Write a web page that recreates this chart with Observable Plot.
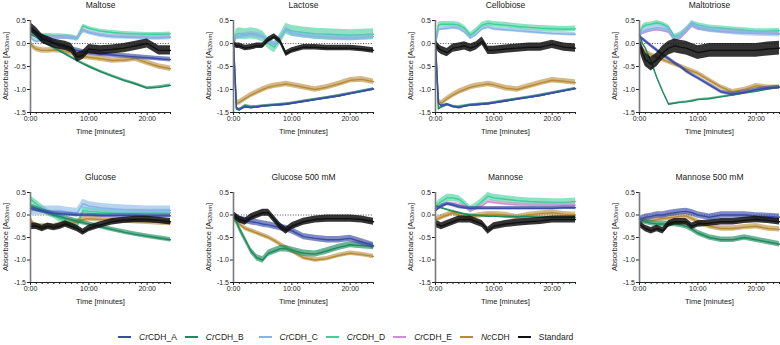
<!DOCTYPE html>
<html><head><meta charset="utf-8">
<script src="https://cdn.jsdelivr.net/npm/d3@7"></script>
<script src="https://cdn.jsdelivr.net/npm/@observablehq/plot@0.6"></script>
<style>
body{margin:0;background:#fff;font-family:"Liberation Sans",Arial,sans-serif;}
#chart{position:relative;width:780px;height:345px;overflow:hidden;background:#fff;}
#chart svg{position:absolute;overflow:visible;}
#legend{position:absolute;left:118px;top:332px;display:flex;align-items:center;font-size:8.5px;color:#222;white-space:nowrap;}
#legend .item{display:flex;align-items:center;margin-right:8px;}
#legend .sw{display:inline-block;width:13px;height:2px;margin-right:8px;}
</style></head>
<body>
<div id="chart"><div id="legend"></div></div>
<script>
// ---- data ----
const minutes = [0, 0.5, 1, 2, 3, 4, 5, 6, 7, 8, 9, 10, 12, 14, 16, 18, 20, 22, 24];
const seriesNames = ["CrCDH_A", "CrCDH_B", "CrCDH_C", "CrCDH_D", "CrCDH_E", "NcCDH", "Standard"];
const seriesColors = ["#3a4ca6", "#1d8b5e", "#85b5e6", "#3fcf98", "#cf8fd6", "#b78a35", "#111111"];
const bandOpacity = [0.65, 0.65, 0.6, 0.6, 0.6, 0.6, 0.85];
const drawOrder = [3, 4, 2, 5, 1, 0, 6];
const panelTitles = ["Maltose", "Lactose", "Cellobiose", "Maltotriose", "Glucose", "Glucose 500 mM", "Mannose", "Mannose 500 mM"];
const yTicks = [-1.5, -1, -0.5, 0, 0.5];
const yTickLabels = ["-1.5", "-1.0", "-0.5", "0.0", "0.5"];
const xMajorTicks = [0, 10, 20];
const xMajorLabels = ["0:00", "10:00", "20:00"];
const xMinorTicks = [1,2,3,4,5,6,7,8,9,11,12,13,14,15,16,17,18,19,21,22,23,24];

// values per series, order: A, B, C, D, E, Nc, Standard (null = not shown)
const maltoseValues = [
  [0.30, 0.26, 0.22, 0.15, 0.08, 0.02, -0.04, -0.08, -0.12, -0.15, -0.18, -0.20, -0.23, -0.25, -0.27, -0.29, -0.31, -0.33, -0.35],
  [0.20, 0.17, 0.14, 0.06, -0.02, -0.09, -0.16, -0.23, -0.30, -0.37, -0.44, -0.50, -0.61, -0.71, -0.80, -0.88, -0.97, -0.95, -0.91],
  [0.15, 0.08, 0.05, 0.08, 0.10, 0.12, 0.13, 0.14, 0.12, 0.10, 0.28, 0.24, 0.18, 0.15, 0.14, 0.13, 0.12, 0.12, 0.13],
  [0.30, 0.25, 0.20, 0.18, 0.18, 0.17, 0.17, 0.16, 0.15, 0.12, 0.38, 0.33, 0.27, 0.24, 0.22, 0.21, 0.20, 0.20, 0.21],
  [0.25, 0.20, 0.15, 0.14, 0.14, 0.13, 0.13, 0.12, 0.12, 0.10, 0.30, 0.24, 0.19, 0.16, 0.15, 0.14, 0.13, 0.13, 0.14],
  [0.00, -0.08, -0.12, -0.15, -0.15, -0.14, -0.15, -0.17, -0.20, -0.25, -0.28, -0.30, -0.33, -0.37, -0.36, -0.33, -0.42, -0.50, -0.55],
  [0.35, 0.30, 0.25, 0.10, 0.05, 0.00, -0.03, -0.05, -0.10, -0.30, -0.25, -0.12, -0.15, -0.13, -0.10, -0.05, 0.00, -0.15, -0.15]
];
const maltoseErrors = [0.05, 0.03, 0.05, 0.04, 0.03, 0.06, 0.10];

const lactoseValues = [
  [0.00, -1.40, -1.43, -1.38, -1.40, -1.38, -1.36, -1.35, -1.34, -1.33, -1.32, -1.30, -1.26, -1.22, -1.18, -1.14, -1.09, -1.04, -0.99],
  [0.00, -1.42, -1.45, -1.35, -1.38, -1.38, -1.36, -1.35, -1.34, -1.33, -1.32, -1.30, -1.26, -1.22, -1.18, -1.14, -1.09, -1.04, -0.99],
  [0.00, 0.15, 0.15, 0.18, 0.20, 0.18, 0.15, 0.05, -0.02, 0.10, 0.30, 0.22, 0.18, 0.15, 0.13, 0.12, 0.12, 0.13, 0.15],
  [0.00, 0.20, 0.22, 0.20, 0.22, 0.20, 0.15, 0.00, -0.08, 0.10, 0.32, 0.27, 0.24, 0.21, 0.20, 0.19, 0.18, 0.19, 0.20],
  null,
  [0.00, -1.30, -1.28, -1.20, -1.12, -1.06, -1.00, -0.95, -0.92, -0.90, -0.88, -0.90, -0.95, -1.00, -0.95, -0.88, -0.80, -0.78, -0.83],
  [0.00, -0.05, -0.05, -0.10, -0.08, -0.05, -0.05, 0.08, 0.15, 0.05, -0.22, -0.15, -0.08, -0.08, -0.10, -0.10, -0.10, -0.12, -0.15]
];
const lactoseErrors = [0.02, 0.03, 0.06, 0.12, 0, 0.06, 0.06];

const cellobioseValues = [
  [0.00, -1.30, -1.35, -1.32, -1.37, -1.40, -1.36, -1.34, -1.33, -1.32, -1.31, -1.29, -1.25, -1.21, -1.17, -1.13, -1.08, -1.03, -0.98],
  [0.00, -1.42, -1.38, -1.33, -1.37, -1.38, -1.36, -1.34, -1.33, -1.32, -1.31, -1.29, -1.25, -1.21, -1.17, -1.13, -1.08, -1.03, -0.98],
  [0.00, 0.30, 0.32, 0.33, 0.35, 0.33, 0.25, 0.12, 0.20, 0.32, 0.36, 0.32, 0.30, 0.28, 0.26, 0.24, 0.22, 0.21, 0.20],
  [0.00, 0.40, 0.42, 0.42, 0.42, 0.40, 0.33, 0.18, 0.28, 0.40, 0.44, 0.42, 0.40, 0.37, 0.35, 0.33, 0.32, 0.31, 0.32],
  null,
  [0.00, -1.25, -1.30, -1.20, -1.12, -1.05, -1.00, -0.95, -0.92, -0.90, -0.88, -0.90, -0.97, -1.00, -0.93, -0.86, -0.80, -0.82, -0.85],
  [0.00, -0.10, -0.15, -0.20, -0.10, -0.08, -0.05, -0.10, -0.05, 0.05, -0.15, -0.15, -0.12, -0.10, -0.08, -0.08, -0.02, -0.08, -0.10]
];
const cellobioseErrors = [0.02, 0.03, 0.04, 0.06, 0, 0.06, 0.09];

const maltotrioseValues = [
  [0.15, 0.10, 0.05, -0.05, -0.15, -0.25, -0.33, -0.42, -0.50, -0.60, -0.68, -0.75, -0.90, -1.05, -1.10, -1.06, -1.00, -0.97, -0.95],
  [0.20, 0.00, -0.10, -0.40, -0.75, -1.05, -1.32, -1.30, -1.28, -1.27, -1.25, -1.22, -1.20, -1.16, -1.12, -1.08, -1.04, -0.99, -0.95],
  [0.20, 0.25, 0.30, 0.32, 0.35, 0.33, 0.30, 0.08, 0.15, 0.30, 0.42, 0.35, 0.30, 0.27, 0.25, 0.23, 0.22, 0.21, 0.20],
  [0.20, 0.35, 0.40, 0.42, 0.45, 0.42, 0.35, 0.15, 0.20, 0.30, 0.45, 0.40, 0.35, 0.33, 0.31, 0.29, 0.27, 0.27, 0.28],
  [0.20, 0.22, 0.25, 0.28, 0.30, 0.28, 0.25, 0.08, 0.12, 0.25, 0.38, 0.32, 0.28, 0.26, 0.24, 0.23, 0.22, 0.22, 0.22],
  [-0.05, -0.12, -0.18, -0.25, -0.30, -0.35, -0.40, -0.45, -0.50, -0.55, -0.60, -0.65, -0.80, -0.95, -1.05, -1.00, -0.92, -0.95, -0.95],
  [0.00, -0.20, -0.35, -0.45, -0.35, -0.20, -0.10, -0.05, -0.08, -0.10, -0.15, -0.20, -0.15, -0.15, -0.15, -0.15, -0.15, -0.12, -0.10]
];
const maltotrioseErrors = [0.04, 0.02, 0.06, 0.05, 0.03, 0.05, 0.15];

const glucoseValues = [
  [0.15, 0.13, 0.11, 0.08, 0.06, 0.04, 0.03, 0.02, 0.01, 0.00, 0.00, 0.00, -0.01, -0.01, -0.01, -0.01, -0.02, -0.02, -0.02],
  [0.20, 0.18, 0.15, 0.10, 0.05, 0.00, -0.03, -0.07, -0.10, -0.14, -0.17, -0.20, -0.26, -0.32, -0.38, -0.43, -0.47, -0.51, -0.55],
  [0.10, 0.10, 0.10, 0.10, 0.10, 0.10, 0.10, 0.08, 0.06, 0.05, 0.25, 0.20, 0.16, 0.14, 0.12, 0.11, 0.10, 0.10, 0.10],
  [0.35, 0.30, 0.25, 0.15, 0.05, 0.00, -0.08, -0.15, -0.20, -0.25, 0.10, 0.08, 0.06, 0.05, 0.05, 0.05, 0.05, 0.05, 0.05],
  null,
  [-0.10, -0.20, -0.25, -0.25, -0.25, -0.25, -0.22, -0.20, -0.20, -0.15, -0.10, -0.08, -0.10, -0.10, -0.12, -0.14, -0.15, -0.17, -0.18],
  [-0.25, -0.25, -0.25, -0.30, -0.25, -0.28, -0.25, -0.20, -0.25, -0.30, -0.38, -0.30, -0.22, -0.15, -0.12, -0.10, -0.10, -0.12, -0.15]
];
const glucoseErrors = [0.04, 0.05, 0.1, 0.08, 0, 0.06, 0.07];

const glucose500Values = [
  [0.00, -0.05, -0.10, -0.12, -0.15, -0.17, -0.20, -0.22, -0.25, -0.28, -0.30, -0.35, -0.48, -0.52, -0.55, -0.55, -0.52, -0.60, -0.68],
  [-0.05, -0.15, -0.30, -0.55, -0.80, -0.95, -1.00, -0.85, -0.80, -0.75, -0.75, -0.78, -0.85, -0.87, -0.80, -0.72, -0.66, -0.68, -0.70],
  null, null, null,
  [-0.05, -0.12, -0.20, -0.30, -0.35, -0.40, -0.45, -0.50, -0.57, -0.65, -0.72, -0.80, -0.95, -1.00, -0.97, -0.90, -0.85, -0.88, -0.92],
  [0.00, -0.05, -0.10, -0.15, -0.05, 0.00, 0.05, 0.05, -0.10, -0.25, -0.35, -0.25, -0.15, -0.10, -0.08, -0.08, -0.08, -0.10, -0.15]
];
const glucose500Errors = [0.07, 0.07, 0, 0, 0, 0.05, 0.08];

const mannoseValues = [
  [0.10, 0.15, 0.20, 0.25, 0.22, 0.18, 0.16, 0.15, 0.15, 0.15, 0.15, 0.15, 0.15, 0.15, 0.15, 0.15, 0.15, 0.16, 0.16],
  [0.20, 0.18, 0.16, 0.12, 0.08, 0.05, 0.02, 0.00, -0.01, -0.02, -0.03, -0.03, -0.04, -0.04, -0.04, -0.05, -0.05, -0.05, -0.05],
  null,
  [0.15, 0.25, 0.30, 0.38, 0.38, 0.35, 0.25, 0.12, 0.20, 0.30, 0.42, 0.38, 0.35, 0.32, 0.30, 0.29, 0.28, 0.28, 0.30],
  [0.10, 0.15, 0.18, 0.25, 0.25, 0.22, 0.20, 0.10, 0.15, 0.20, 0.30, 0.28, 0.25, 0.23, 0.22, 0.22, 0.22, 0.22, 0.22],
  [-0.10, -0.08, -0.05, 0.00, 0.05, 0.00, -0.03, -0.05, -0.02, 0.00, 0.02, 0.02, 0.00, -0.05, 0.00, 0.03, 0.05, 0.02, 0.00],
  [-0.20, -0.22, -0.25, -0.20, -0.15, -0.10, -0.10, -0.10, -0.15, -0.20, -0.35, -0.25, -0.20, -0.17, -0.15, -0.13, -0.10, -0.10, -0.10]
];
const mannoseErrors = [0.04, 0.02, 0, 0.08, 0.04, 0.06, 0.08];

const mannose500Values = [
  [-0.10, -0.08, -0.05, -0.03, 0.00, 0.00, 0.03, 0.05, 0.07, 0.08, 0.05, 0.00, -0.05, 0.00, 0.00, 0.00, -0.02, -0.03, -0.05],
  [-0.10, -0.12, -0.15, -0.18, -0.20, -0.20, -0.20, -0.20, -0.22, -0.25, -0.32, -0.40, -0.50, -0.55, -0.55, -0.50, -0.55, -0.60, -0.65],
  null, null, null,
  [-0.15, -0.14, -0.12, -0.12, -0.10, -0.08, -0.06, -0.05, -0.03, -0.02, -0.08, -0.15, -0.25, -0.30, -0.30, -0.27, -0.25, -0.30, -0.32],
  [-0.20, -0.25, -0.30, -0.35, -0.30, -0.35, -0.20, -0.15, -0.15, -0.15, -0.25, -0.20, -0.18, -0.15, -0.15, -0.12, -0.10, -0.12, -0.15]
];
const mannose500Errors = [0.07, 0.06, 0, 0, 0, 0.06, 0.07];

const panelValues = [maltoseValues, lactoseValues, cellobioseValues, maltotrioseValues, glucoseValues, glucose500Values, mannoseValues, mannose500Values];
const panelErrors = [maltoseErrors, lactoseErrors, cellobioseErrors, maltotrioseErrors, glucoseErrors, glucose500Errors, mannoseErrors, mannose500Errors];

// ---- layout ----
const colLeft = [0, 203, 405, 609];
const rowTop = [0, 171.5];
const rowPlotHeight = [92, 90];
const font = "Liberation Sans, Arial, sans-serif";
const chart = document.getElementById("chart");

panelTitles.forEach((title, p) => {
  const col = p % 4, row = Math.floor(p / 4);
  const rows = [];
  panelValues[p].forEach((vals, si) => {
    if (!vals) return;
    const e = panelErrors[p][si];
    vals.forEach((v, j) => rows.push({t: minutes[j], v, lo: v - e, hi: v + e, s: si}));
  });
  const seriesMarks = [];
  drawOrder.forEach(si => {
    if (!panelValues[p][si]) return;
    const data = rows.filter(d => d.s === si);
    seriesMarks.push(Plot.areaY(data, {x: "t", y1: "lo", y2: "hi", fill: seriesColors[si], fillOpacity: bandOpacity[si]}));
    seriesMarks.push(Plot.lineY(data, {x: "t", y: "v", stroke: seriesColors[si], strokeWidth: 1.4}));
  });
  const svg = Plot.plot({
    width: 200,
    height: 20 + rowPlotHeight[row] + 40,
    marginLeft: 30, marginRight: 30, marginTop: 20, marginBottom: 40,
    x: {domain: [0, 24]},
    y: {domain: [-1.5, 0.5]},
    style: {fontFamily: font, fontSize: "7px", color: "#222", background: "transparent", overflow: "visible"},
    marks: [
      Plot.ruleY([0], {x1: 0, x2: 24, stroke: "#222", strokeWidth: 0.8, strokeDasharray: "1,1.6"}),
      ...seriesMarks,
      Plot.axisY({ticks: yTicks, tickFormat: d => yTickLabels[yTicks.indexOf(d)], tickSize: 3, tickPadding: 1.5, label: null, stroke: "#222"}),
      Plot.axisX({ticks: xMinorTicks, tickFormat: null, tickSize: 2, label: null, text: null}),
      Plot.axisX({ticks: xMajorTicks, tickFormat: d => xMajorLabels[xMajorTicks.indexOf(d)], tickSize: 3, tickPadding: 0.5, label: null}),
      Plot.ruleY([-1.5], {x1: 0, x2: 24, stroke: "#222", strokeWidth: 1}),
      Plot.ruleX([0], {y1: -1.5, y2: 0.5, stroke: "#7a7a7a", strokeWidth: 1.6}),
      Plot.text([title], {frameAnchor: "top", lineAnchor: "middle", dy: -15, fontSize: 8.5, fill: "#222"}),
      Plot.text(["Time [minutes]"], {frameAnchor: "bottom", lineAnchor: "middle", dy: 19, fontSize: 7.5, fill: "#222"})
    ]
  });
  svg.style.left = colLeft[col] + "px";
  svg.style.top = rowTop[row] + "px";
  // rotated y-axis label with subscript
  const cy = 20 + rowPlotHeight[row] / 2;
  const lab = d3.select(svg).append("text")
    .attr("transform", `translate(6,${cy}) rotate(-90)`)
    .attr("text-anchor", "middle").attr("dominant-baseline", "middle")
    .attr("font-size", 7.5).attr("font-family", font).attr("fill", "#222");
  lab.append("tspan").text("Absorbance [A");
  lab.append("tspan").attr("font-size", 5.5).attr("dy", 2).text("520nm");
  lab.append("tspan").attr("dy", -2).text("]");
  chart.appendChild(svg);
});

// legend
const legend = document.getElementById("legend");
seriesNames.forEach((name, i) => {
  const item = document.createElement("span");
  item.className = "item";
  if (i === 1) item.style.marginRight = "15px";
  const sw = document.createElement("span");
  sw.className = "sw";
  sw.style.background = seriesColors[i];
  item.appendChild(sw);
  const label = document.createElement("span");
  if (name.startsWith("Cr") || name.startsWith("Nc")) {
    const it = document.createElement("i");
    it.textContent = name.slice(0, 2);
    label.appendChild(it);
    label.appendChild(document.createTextNode(name.slice(2)));
  } else {
    label.textContent = name;
  }
  item.appendChild(label);
  legend.appendChild(item);
});
</script>
</body></html>
